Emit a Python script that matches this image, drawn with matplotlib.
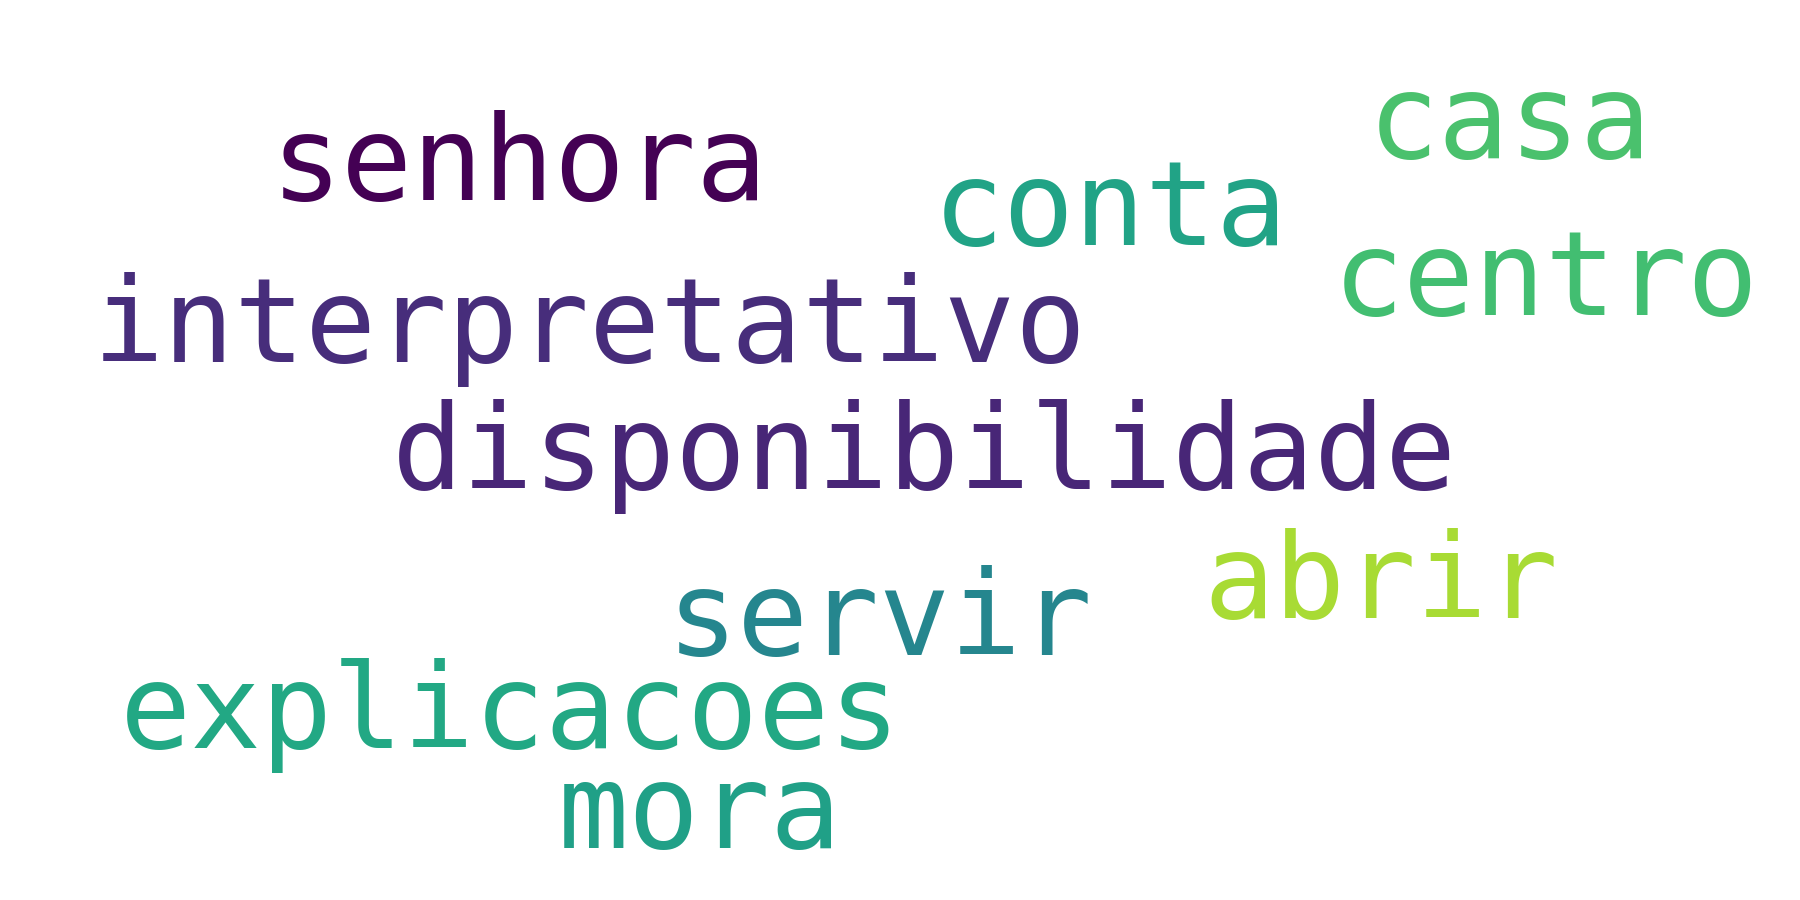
import matplotlib.pyplot as plt

# word cloud: words, left x / baseline y (in reference pixel units, 1560x780), colours
words = ["senhora", "conta", "casa", "centro", "interpretativo",
         "disponibilidade", "abrir", "servir", "explicacoes", "mora"]
x_left = [235, 808, 1185, 1155, 80, 340, 1043, 578, 104, 483]
baseline = [173, 212, 137, 273, 314, 424, 536, 568, 648, 735]
colors = ["#440154", "#21a386", "#4ac16d", "#42be71", "#472d7b",
          "#482677", "#a8db34", "#25868e", "#22a884", "#20a087"]

W, H = 1560.0, 780.0

fig = plt.figure(figsize=(18, 9), dpi=100)
fig.patch.set_facecolor("white")

for w, x, y, c in zip(words, x_left, baseline, colors):
    fig.text(x / W, 1 - y / H, w, color=c, fontsize=85,
             family="DejaVu Sans Mono", ha="left", va="baseline")

fig.savefig("out.png", dpi=100, facecolor="white")
